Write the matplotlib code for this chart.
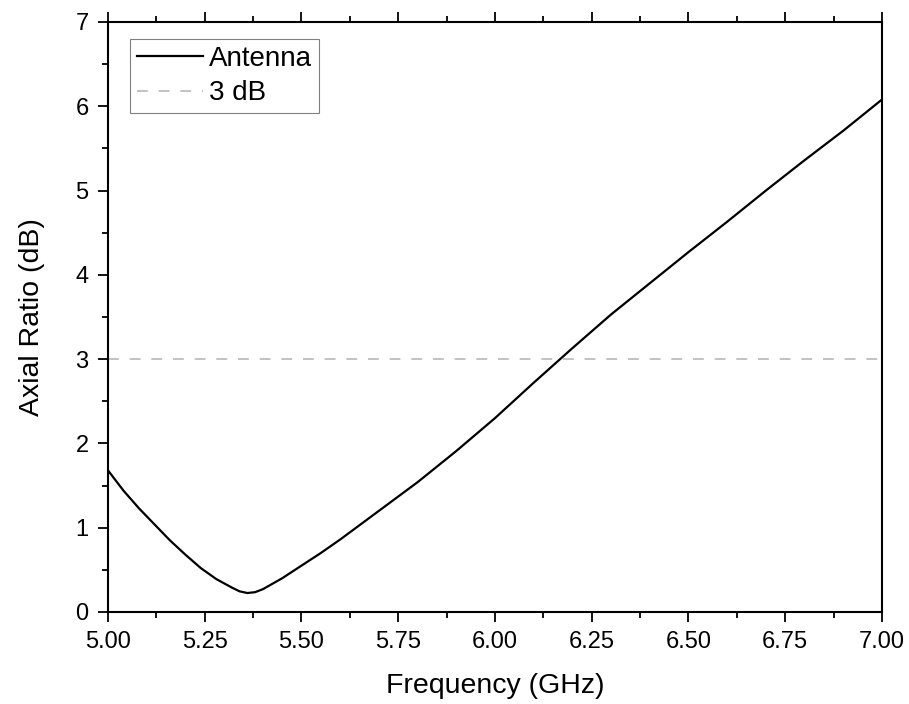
import numpy as np
import matplotlib
matplotlib.use('Agg')
import matplotlib.pyplot as plt
from matplotlib.ticker import MultipleLocator

# values
freq = [5.00, 5.04, 5.08, 5.12, 5.16, 5.20, 5.24, 5.28, 5.32, 5.34, 5.36, 5.38, 5.40,
        5.45, 5.50, 5.55, 5.60, 5.70, 5.80, 5.90, 6.00, 6.10, 6.20, 6.30, 6.40,
        6.50, 6.60, 6.70, 6.80, 6.90, 7.00]
axial_ratio = [1.68, 1.44, 1.23, 1.04, 0.85, 0.68, 0.52, 0.39, 0.29, 0.245, 0.225, 0.235, 0.27,
               0.40, 0.55, 0.70, 0.86, 1.20, 1.54, 1.91, 2.30, 2.72, 3.13, 3.53, 3.90,
               4.27, 4.63, 5.00, 5.36, 5.71, 6.08]
threshold = 3.0

plt.rcParams['font.family'] = ['Liberation Sans', 'DejaVu Sans']

fig = plt.figure(figsize=(9.09, 7.04), dpi=100)
ax = fig.add_axes([0.1188, 0.1307, 0.8515, 0.8381])

ax.plot(freq, axial_ratio, color='black', lw=1.6, label='Antenna')
ax.axhline(threshold, color='#bdbdbd', lw=1.3, ls=(0, (6, 6)), label='3 dB')

ax.set_xlim(5.0, 7.0)
ax.set_ylim(0, 7)
ax.xaxis.set_major_locator(MultipleLocator(0.25))
ax.xaxis.set_minor_locator(MultipleLocator(0.125))
ax.yaxis.set_major_locator(MultipleLocator(1))
ax.yaxis.set_minor_locator(MultipleLocator(0.5))
ax.xaxis.set_major_formatter(matplotlib.ticker.FormatStrFormatter('%.2f'))

for s in ax.spines.values():
    s.set_linewidth(1.5)
ax.tick_params(which='both', direction='out', top=True, right=False,
               labelsize=17, width=1.3, pad=7)
ax.tick_params(which='major', length=7)
ax.tick_params(which='minor', length=4)

ax.set_xlabel('Frequency (GHz)', fontsize=20.5, labelpad=14)
ax.set_ylabel('Axial Ratio (dB)', fontsize=20.5, labelpad=22)

leg = ax.legend(loc='upper left', bbox_to_anchor=(0.028, 0.971), borderaxespad=0,
                fontsize=20, fancybox=False, framealpha=1, edgecolor='#808080',
                handlelength=2.4, handletextpad=0.2, borderpad=0.25, labelspacing=0.3)
leg.get_frame().set_linewidth(0.8)

fig.savefig('out.png', dpi=100)
